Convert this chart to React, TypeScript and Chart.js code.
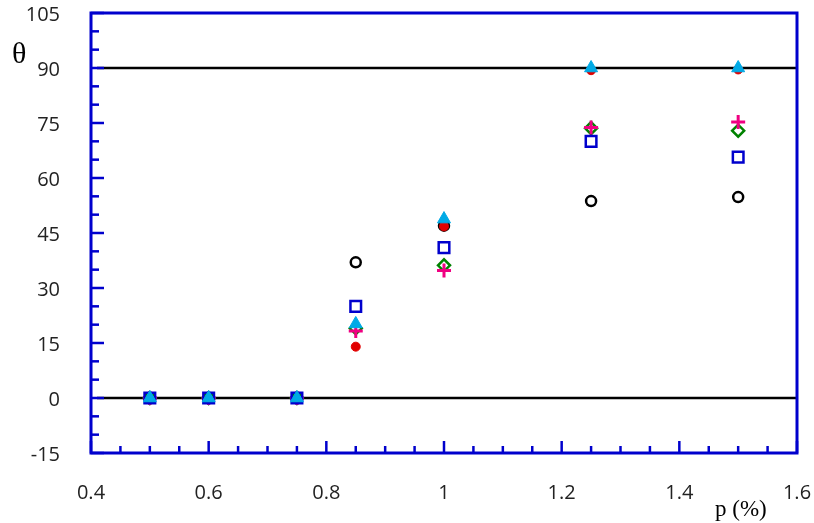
import React, { useEffect, useRef } from "react";
import { Chart, registerables } from "chart.js";

Chart.register(...registerables);

const pValues = [0.5, 0.6, 0.75, 0.85, 1.0, 1.25, 1.5];
const seriesCircle = [0, 0, 0, 37, 47, 53.7, 54.8];
const seriesSquare = [0, 0, 0, 25, 41, 70, 65.7];
const seriesDiamond = [0, 0, 0, 19, 36.2, 73.6, 72.9];
const seriesPlus = [0, 0, 0, 18.3, 34.8, 73.8, 75.3];
const seriesTriangle = [0, 0, 0, 20.2, 48.8, 90, 90];
const seriesRed = [0, 0, 0, 14, 46.8, 89.4, 89.6];
const refLevels = [0, 90];
const xTicks = [0.4, 0.6, 0.8, 1.0, 1.2, 1.4, 1.6];
const yTicks = [-15, 0, 15, 30, 45, 60, 75, 90, 105];

const BLUE = "rgb(0,0,205)";
const TICK_FONT = "20px 'Open Sans', sans-serif";

const pts = (vals: number[]) => vals.map((v, i) => ({ x: pValues[i], y: v }));

const framePlugin = {
  id: "frame",
  afterDraw(chart: any) {
    const { ctx, chartArea: a, scales } = chart;
    const xs = scales.x, ys = scales.y;
    ctx.save();
    ctx.strokeStyle = BLUE;
    ctx.lineWidth = 2.5;
    for (let v = -15; v <= 105; v += 5) {
      const py = ys.getPixelForValue(v);
      const major = v % 15 === 0;
      ctx.beginPath();
      ctx.moveTo(a.left, py);
      ctx.lineTo(a.left + (major ? 13 : 8), py);
      ctx.stroke();
    }
    for (let i = 0; i <= 24; i++) {
      const v = 0.4 + i * 0.05;
      const px = xs.getPixelForValue(v);
      const major = i % 4 === 0;
      ctx.beginPath();
      ctx.moveTo(px, a.bottom);
      ctx.lineTo(px, a.bottom - (major ? 12 : 7));
      ctx.stroke();
    }
    ctx.lineWidth = 3;
    ctx.strokeRect(a.left, a.top, a.right - a.left, a.bottom - a.top);

    // tick labels
    ctx.fillStyle = "#222";
    ctx.font = TICK_FONT;
    ctx.textAlign = "right";
    ctx.textBaseline = "middle";
    yTicks.forEach((v) => {
      ctx.fillText(String(v), a.left - 31, ys.getPixelForValue(v) + 2);
    });
    ctx.textAlign = "center";
    xTicks.forEach((v) => {
      ctx.fillText(String(parseFloat(v.toFixed(2))), xs.getPixelForValue(v), a.bottom + 40);
    });

    ctx.fillStyle = "#000";
    ctx.font = "30px 'Liberation Serif', 'DejaVu Serif', serif";
    ctx.textAlign = "left";
    ctx.fillText("θ", 12, 55);
    ctx.textBaseline = "alphabetic";
    ctx.font = "23px 'Liberation Serif', 'DejaVu Serif', serif";
    ctx.fillText("p (%)", 715, 516);
    ctx.restore();
  },
};

export default function App() {
  const ref = useRef<HTMLCanvasElement>(null);
  useEffect(() => {
    const refData = (lv: number) => [
      { x: 0.41, y: lv },
      { x: 1.6, y: lv },
    ];
    const chart = new Chart(ref.current!, {
      type: "scatter",
      data: {
        datasets: [
          {
            data: pts(seriesTriangle),
            pointStyle: "triangle",
            pointRadius: 7.5,
            borderColor: "rgb(0,170,230)",
            backgroundColor: "rgb(0,170,230)",
            borderWidth: 1,
          },
          {
            data: pts(seriesSquare),
            pointStyle: "rect",
            pointRadius: 7.5,
            borderColor: BLUE,
            backgroundColor: "transparent",
            borderWidth: 2.5,
          },
          {
            data: pts(seriesPlus),
            pointStyle: "cross",
            pointRadius: 7,
            borderColor: "rgb(240,0,130)",
            backgroundColor: "rgb(240,0,130)",
            borderWidth: 3,
          },
          {
            data: pts(seriesDiamond),
            pointStyle: "rectRot",
            pointRadius: 6,
            borderColor: "rgb(0,130,0)",
            backgroundColor: "transparent",
            borderWidth: 2.5,
          },
          {
            data: pts(seriesRed),
            pointStyle: "circle",
            pointRadius: 4.5,
            borderColor: "rgb(225,0,0)",
            backgroundColor: "rgb(225,0,0)",
            borderWidth: 1,
          },
          {
            data: pts(seriesCircle),
            pointStyle: "circle",
            pointRadius: 5,
            borderColor: "#000",
            backgroundColor: "transparent",
            borderWidth: 2.5,
          },
          ...refLevels.map((lv) => ({
            type: "line" as const,
            data: refData(lv),
            borderColor: "#000",
            borderWidth: 2.5,
            pointRadius: 0,
            showLine: true,
            fill: false,
          })),
        ],
      },
      options: {
        animation: false,
        responsive: false,
        maintainAspectRatio: false,
        layout: { padding: { top: 13, right: 17, left: 0, bottom: 0 } },
        plugins: { legend: { display: false }, tooltip: { enabled: false } },
        scales: {
          x: {
            type: "linear",
            min: 0.4,
            max: 1.6,
            afterBuildTicks: (s: any) => {
              s.ticks = xTicks.map((v) => ({ value: v }));
            },
            afterFit: (s: any) => {
              s.height = 70;
            },
            grid: { display: false, drawTicks: false },
            border: { display: false },
            ticks: { display: false },
          },
          y: {
            type: "linear",
            min: -15,
            max: 105,
            afterBuildTicks: (s: any) => {
              s.ticks = yTicks.map((v) => ({ value: v }));
            },
            afterFit: (s: any) => {
              s.width = 91;
            },
            grid: { display: false, drawTicks: false },
            border: { display: false },
            ticks: { display: false },
          },
        },
      },
      plugins: [framePlugin],
    } as any);
    return () => chart.destroy();
  }, []);
  return (
    <div style={{ position: "fixed", left: 0, top: 0, width: 814, height: 523, background: "#fff" }}>
      <canvas ref={ref} width={814} height={523} style={{ width: 814, height: 523 }} />
    </div>
  );
}
